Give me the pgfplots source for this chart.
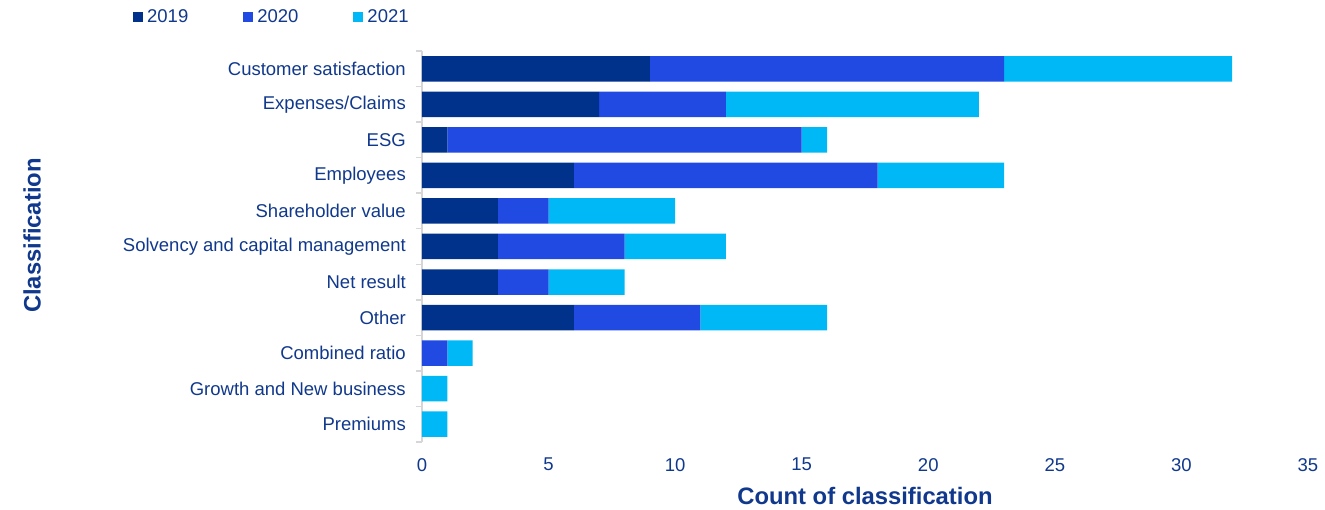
\documentclass[border=0pt]{standalone}
\usepackage{fontspec}
\setmainfont{Liberation Sans}
\usepackage{pgfplots}
\pgfplotsset{compat=1.18}
\definecolor{cA}{RGB}{0,50,140}
\definecolor{cB}{RGB}{32,74,226}
\definecolor{cC}{RGB}{0,184,245}
\definecolor{txt}{RGB}{16,56,140}
\definecolor{axgray}{RGB}{214,214,214}
\begin{document}
\begin{tikzpicture}
\begin{axis}[
  name=ax,
  scale only axis,
  width=886pt, height=391pt,
  xbar stacked,
  bar width=25.5pt,
  y dir=reverse,
  xmin=0, xmax=35,
  ymin=-0.5, ymax=10.5,
  xtick={0,5,...,35},
  ytick={0,...,10},
  yticklabels={Customer satisfaction,Expenses/Claims,ESG,Employees,Shareholder value,Solvency and capital management,Net result,Other,Combined ratio,Growth and New business,Premiums},
  axis lines*=left,
  axis line style={-},
  x axis line style={draw=none},
  y axis line style={draw=axgray, line width=1.6pt},
  xtick style={draw=none},
  ytick style={draw=none},
  extra y ticks={-0.5,0.5,...,10.5},
  extra y tick labels={},
  extra y tick style={ytick style={draw=axgray, line width=1.4pt}, tick align=outside, major tick length=6pt},
  /pgf/number format/assume math mode=true,
  ticklabel style={font=\fontsize{18.5}{22}\selectfont, text=txt},
  yticklabel style={inner sep=0pt, xshift=-16pt},
  xticklabel style={inner sep=0pt, yshift=-16pt},
  xlabel={Count of classification},
  ylabel={Classification},
  label style={font=\bfseries\fontsize{23.8}{28}\selectfont, text=txt, inner sep=0pt},
  xlabel style={at={(axis description cs:0.5,0)}, anchor=north, yshift=-45pt},
  ylabel style={at={(axis description cs:-0.440,0.528)}, anchor=center},
  legend columns=3,
  legend style={at={(axis description cs:-0.3262,1.087)}, anchor=west, draw=none, fill=none, inner sep=0pt,
    font=\fontsize{18.5}{22}\selectfont, text=txt,
    nodes={inner sep=0pt},
    /tikz/every odd column/.append style={column sep=4pt},
    /tikz/every even column/.append style={column sep=55pt}},
  legend image code/.code={\fill[#1] (0pt,-5pt) rectangle (10pt,5pt);},
]
\addplot[fill=cA, draw=none] coordinates {(9,0) (7,1) (1,2) (6,3) (3,4) (3,5) (3,6) (6,7) (0,8) (0,9) (0,10)};
\addplot[fill=cB, draw=none] coordinates {(14,0) (5,1) (14,2) (12,3) (2,4) (5,5) (2,6) (5,7) (1,8) (0,9) (0,10)};
\addplot[fill=cC, draw=none] coordinates {(9,0) (10,1) (1,2) (5,3) (5,4) (4,5) (3,6) (5,7) (1,8) (1,9) (1,10)};
\legend{2019,2020,2021}
\end{axis}
\path (ax.south west) ++(-422pt,-68pt) rectangle ++(1325pt,510pt);
\end{tikzpicture}
\end{document}
